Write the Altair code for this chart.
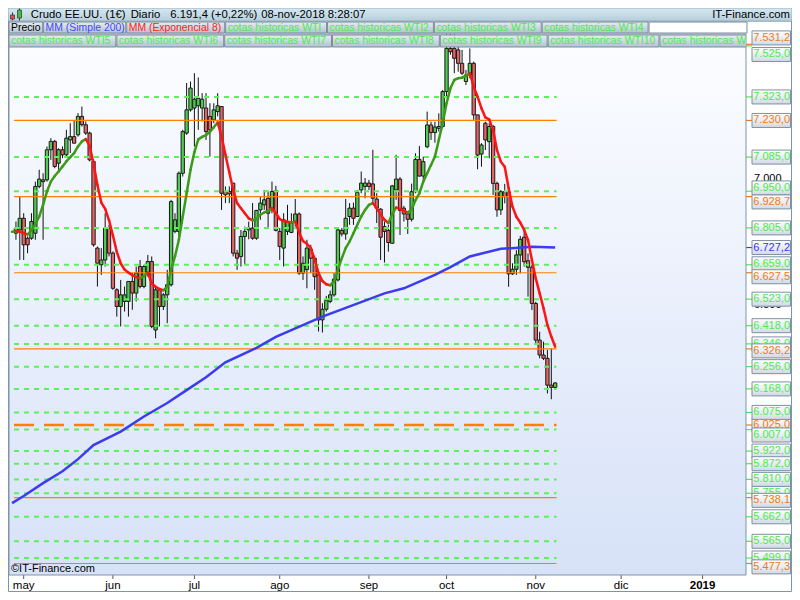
import altair as alt
import pandas as pd

FONT = "Liberation Sans"

# ---------------- chart values ----------------
opens = [6784, 6797, 6843, 6764, 6764, 6784, 6969, 6988, 6995, 7114,
         7147, 7061, 7114, 7094, 7153, 7166, 7173, 7246, 7213, 7180,
         7068, 6725, 6659, 6678, 6804, 6705, 6560, 6494, 6514, 6514,
         6593, 6547, 6652, 6573, 6619, 6672, 6401, 6560, 6494, 6540,
         6580, 6791, 6791, 7021, 7180, 7272, 7279, 7288, 7279, 7279,
         7246, 7232, 7265, 7285, 6949, 6949, 6982, 6705, 6692, 6771,
         6797, 6804, 6764, 6876, 6896, 6922, 6876, 6953, 6791, 6725,
         6791, 6787, 6826, 6860, 6626, 6640, 6721, 6685, 6619, 6441,
         6483, 6514, 6540, 6599, 6795, 6781, 6850, 6883, 6850, 6955,
         6969, 6982, 6979, 6919, 6879, 6810, 6795, 6744, 6955, 6998,
         6883, 6860, 6839, 6948, 7076, 7010, 7126, 7212, 7182, 7199,
         7206, 7344, 7515, 7515, 7509, 7456, 7384, 7410, 7456, 7252,
         7097, 7219, 7146, 7206, 6981, 6876, 6948, 6948, 6623, 6641,
         6698, 6768, 6675, 6649, 6506, 6361, 6302, 6289, 6183, 6174]
highs = [6830, 6929, 6863, 6771, 6863, 6988, 7035, 7021, 7127, 7160,
         7153, 7120, 7127, 7193, 7219, 7232, 7259, 7285, 7226, 7186,
         7074, 6731, 6725, 6863, 6817, 6712, 6566, 6599, 6573, 6593,
         6626, 6652, 6678, 6659, 6698, 6692, 6573, 6566, 6547, 6639,
         6916, 6863, 7028, 7193, 7378, 7384, 7417, 7400, 7338, 7338,
         7298, 7298, 7338, 7285, 6969, 6969, 6982, 6718, 6797, 6810,
         6830, 6903, 6876, 6929, 6955, 6949, 6988, 6971, 6804, 6863,
         6896, 6863, 6919, 6866, 6692, 6758, 6738, 6695, 6626, 6507,
         6536, 6557, 6626, 6804, 6804, 6919, 6903, 6905, 6955, 7028,
         7002, 6995, 7114, 6942, 6883, 6830, 6817, 6975, 7094, 7006,
         6892, 6869, 6980, 7100, 7129, 7087, 7265, 7225, 7225, 7258,
         7351, 7600, 7620, 7600, 7545, 7509, 7430, 7515, 7463, 7252,
         7140, 7225, 7219, 7212, 6988, 6955, 6979, 6955, 6665, 6717,
         6773, 6797, 6704, 6658, 6513, 6394, 6355, 6322, 6328, 6195]
lows = [6758, 6678, 6678, 6705, 6758, 6758, 6962, 6758, 6988, 7074,
        7041, 7035, 7081, 7087, 7101, 7140, 7166, 7206, 7173, 7068,
        6731, 6573, 6619, 6652, 6692, 6560, 6454, 6415, 6474, 6454,
        6481, 6514, 6566, 6566, 6612, 6408, 6368, 6415, 6480, 6428,
        6573, 6784, 6758, 7008, 7173, 7265, 7127, 7193, 7226, 7153,
        7087, 7219, 7246, 6876, 6903, 6903, 6692, 6639, 6652, 6659,
        6760, 6758, 6758, 6837, 6876, 6804, 6863, 6791, 6678, 6652,
        6777, 6784, 6810, 6619, 6599, 6566, 6626, 6560, 6395, 6391,
        6474, 6507, 6533, 6593, 6771, 6758, 6817, 6817, 6850, 6942,
        6922, 6955, 6903, 6824, 6678, 6668, 6711, 6742, 6916, 6777,
        6830, 6781, 6830, 6942, 7008, 6994, 7120, 7153, 7142, 7186,
        7199, 7324, 7490, 7417, 7423, 7410, 7370, 7397, 7232, 7037,
        7047, 7113, 7080, 6935, 6849, 6856, 6902, 6572, 6619, 6619,
        6625, 6652, 6533, 6480, 6342, 6289, 6282, 6150, 6127, 6170]
closes = [6804, 6843, 6738, 6738, 6830, 6969, 6998, 6995, 7114, 7147,
          7048, 7114, 7094, 7160, 7166, 7140, 7246, 7213, 7180, 7074,
          6738, 6665, 6678, 6804, 6705, 6566, 6494, 6540, 6540, 6593,
          6547, 6626, 6573, 6652, 6672, 6415, 6560, 6494, 6540, 6580,
          6909, 6837, 7021, 7186, 7272, 7358, 7314, 7318, 7314, 7186,
          7193, 7272, 7288, 6942, 6936, 6940, 6705, 6685, 6771, 6791,
          6804, 6764, 6874, 6903, 6916, 6863, 6949, 6795, 6731, 6837,
          6830, 6824, 6860, 6626, 6665, 6725, 6685, 6612, 6441, 6483,
          6518, 6540, 6602, 6797, 6781, 6843, 6883, 6843, 6945, 6982,
          6982, 6969, 6922, 6883, 6768, 6791, 6747, 6971, 6998, 6874,
          6860, 6839, 6948, 7076, 7010, 7067, 7212, 7182, 7204, 7206,
          7344, 7515, 7502, 7476, 7456, 7417, 7410, 7456, 7252, 7093,
          7133, 7153, 7206, 6981, 6876, 6948, 6929, 6623, 6641, 6698,
          6760, 6671, 6649, 6506, 6361, 6302, 6289, 6183, 6174, 6191.4]

# MM (Exponencial 8), one value per session starting one session before the first candle
ema8_start_day = -1
ema8 = [6790, 6793, 6790, 6784, 6779, 6795, 6820, 6850, 6896, 6949,
        6988, 7010, 7028, 7048, 7068, 7085, 7101, 7127, 7147, 7156,
        7130, 7060, 6975, 6905, 6880, 6835, 6775, 6710, 6665, 6640,
        6628, 6618, 6610, 6605, 6615, 6628, 6585, 6572, 6563, 6558,
        6572, 6640, 6692, 6758, 6850, 6942, 7035, 7105, 7155, 7165,
        7172, 7185, 7203, 7222, 7168, 7094, 7025, 6955, 6903, 6883,
        6863, 6843, 6835, 6840, 6857, 6866, 6872, 6883, 6863, 6840,
        6832, 6829, 6826, 6830, 6787, 6753, 6742, 6725, 6680, 6626,
        6595, 6582, 6578, 6593, 6639, 6685, 6725, 6751, 6784, 6817,
        6850, 6876, 6896, 6903, 6883, 6857, 6837, 6824, 6860, 6885,
        6880, 6872, 6866, 6878, 6915, 6942, 6988, 7021, 7054, 7087,
        7153, 7219, 7298, 7357, 7390, 7397, 7399, 7406, 7417, 7364,
        7324, 7278, 7242, 7234, 7192, 7113, 7067, 7047, 6962, 6889,
        6849, 6826, 6797, 6757, 6678, 6605, 6546, 6487, 6421, 6375,
        6335]

# MM (Simple 200), read at sample sessions
mm200_days = [-1, 2, 7, 12, 16, 20, 27, 33, 39, 44, 49, 54, 62, 67, 79, 95,
              100, 108, 112, 117, 125, 133, 139]
mm200_vals = [5716, 5744, 5795, 5842, 5890, 5946, 5999, 6059, 6112, 6163, 6214,
              6273, 6330, 6374, 6454, 6546, 6566, 6619, 6650, 6692, 6722, 6730,
              6727.2]

# "cotas historicas" levels
green_levels = [7525.0, 7323.0, 7085.0, 6950.0, 6805.0, 6659.0, 6523.0, 6418.0,
                6346.0, 6256.0, 6168.0, 6075.0, 6007.0, 5922.0, 5872.0, 5810.0,
                5755.0, 5662.0, 5565.0, 5499.0]
orange_levels = [7531.2, 7230.0, 6928.7, 6627.5, 6326.2, 5738.1, 5477.3]
orange_dashed_levels = [6025.0]

axis_values = [5500, 6000, 6500, 7000]
month_names = ["may", "jun", "jul", "ago", "sep", "oct", "nov", "dic", "2019"]
month_pos = [2, 25, 46, 68, 91, 111, 134, 156, 177]

title_parts = ["Crudo EE.UU. (1€)", "Diario", "6.191,4 (+0,22%)", "08-nov-2018 8:28:07"]

# ---------------- layout / style ----------------
# page content is 784x584 (8px page margin); plot box sits where the reference's does
W, H = 737, 541
UPP = 2164 / 547.0                      # price units per pixel, as in the reference
X_DOMAIN = [-0.5, 186.9]
Y_DOMAIN = [7572 - H * UPP, 7572]

GREEN_LINE = "#5cf05c"
GREEN_TXT = "#48ec48"
ORANGE = "#ff8000"
BLUE = "#3b3bf0"
UP_BODY = "#4fcb4f"
DOWN_BODY = "#e46464"
EMA_UP = "#3b9b16"
EMA_DOWN = "#ff1414"
FRAME = "#7f94a6"

xsc = alt.Scale(domain=X_DOMAIN, nice=False, zero=False)
ysc = alt.Scale(domain=Y_DOMAIN, nice=False, zero=False)

one = pd.DataFrame({"k": [0]})


def fx(rx):
    # reference x (inside the chart width) -> plot x
    return (rx - 1) * W / 745.0


def px(rx):
    # reference x in the right-hand column -> plot x (exact page position)
    return rx - 9


def es(v):
    s = f"{v:,.1f}"
    return s.replace(",", "X").replace(".", ",").replace("X", ".")


def grad(top, bottom):
    return {"gradient": "linear", "x1": 0, "y1": 0, "x2": 0, "y2": 1,
            "stops": [{"offset": 0, "color": top}, {"offset": 1, "color": bottom}]}


def R(x0, x1, y0, y1, **kw):
    return alt.Chart(one).mark_rect(**kw).encode(
        x=alt.value(x0), x2=alt.value(x1), y=alt.value(y0), y2=alt.value(y1))


def T(x, y, s, **kw):
    kw.setdefault("font", FONT)
    kw.setdefault("fontSize", 11)
    kw.setdefault("baseline", "middle")
    kw.setdefault("align", "left")
    return alt.Chart(one).mark_text(**kw).encode(
        x=alt.value(x), y=alt.value(y), text=alt.value(s))


def VR(x, y0, y1, color):
    return alt.Chart(one).mark_rule(color=color, strokeWidth=1).encode(
        x=alt.value(x), y=alt.value(y0), y2=alt.value(y1))


n = len(closes)
x_end = n - 1 + 0.35
cdf = pd.DataFrame({"d": list(range(n)), "o": opens, "h": highs, "l": lows, "c": closes})
cdf["fc"] = [UP_BODY if c >= o else DOWN_BODY for o, c in zip(opens, closes)]

ema_days = [ema8_start_day + i for i in range(len(ema8))]
seg_rows = []
for i in range(len(ema8) - 1):
    col = EMA_UP if ema8[i + 1] >= ema8[i] else EMA_DOWN
    seg_rows.append({"seg": i, "d": ema_days[i], "v": ema8[i], "col": col})
    seg_rows.append({"seg": i, "d": ema_days[i + 1], "v": ema8[i + 1], "col": col})
edf = pd.DataFrame(seg_rows)

mdf = pd.DataFrame({"d": mm200_days, "v": mm200_vals})


def level_df(vals):
    return pd.DataFrame({"v": vals, "x0": X_DOMAIN[0], "x1": x_end})


layers = []

# plot background
layers.append(R(0, W, 0, H, fill=grad("#fcfdff", "#d7e2f8")))

# black price scale labels (mostly hidden behind the level labels)
adf = pd.DataFrame({"v": axis_values,
                    "txt": [f"{v:,.0f}".replace(",", ".") for v in axis_values]})
layers.append(alt.Chart(adf).mark_text(align="left", baseline="middle", font=FONT,
                                        fontSize=11, color="#000000").encode(
    x=alt.value(px(754)), y=alt.Y("v:Q", scale=ysc, axis=None), text="txt:N"))

# month axis: ticks + labels
mdf_ax = pd.DataFrame({"d": month_pos, "name": month_names})
mdf_ax["bold"] = [nm.isdigit() for nm in month_names]
layers.append(alt.Chart(mdf_ax).mark_rule(color="#555555", strokeWidth=1).encode(
    x=alt.X("d:Q", scale=xsc, axis=None), y=alt.value(H), y2=alt.value(H + 4)))
layers.append(alt.Chart(mdf_ax[~mdf_ax["bold"]]).mark_text(
    align="center", baseline="middle", font=FONT, fontSize=11.5, color="#000000").encode(
    x=alt.X("d:Q", scale=xsc, axis=None), y=alt.value(H + 10.5), text="name:N"))
layers.append(alt.Chart(mdf_ax[mdf_ax["bold"]]).mark_text(
    align="center", baseline="middle", font=FONT, fontSize=11.5, fontWeight="bold",
    color="#000000").encode(
    x=alt.X("d:Q", scale=xsc, axis=None), y=alt.value(H + 10.5), text="name:N"))

# candles: wicks + bodies
layers.append(alt.Chart(cdf).mark_rule(color="#111111", strokeWidth=1, clip=True).encode(
    x=alt.X("d:Q", scale=xsc, axis=None),
    y=alt.Y("l:Q", scale=ysc, axis=None),
    y2="h:Q"))
layers.append(alt.Chart(cdf).mark_bar(size=3.3, stroke="#1a1a1a", strokeWidth=1, clip=True).encode(
    x=alt.X("d:Q", scale=xsc, axis=None),
    y=alt.Y("o:Q", scale=ysc, axis=None),
    y2="c:Q",
    fill=alt.Fill("fc:N", scale=None)))

# levels
layers.append(alt.Chart(level_df(green_levels)).mark_rule(
    color=GREEN_LINE, strokeWidth=2, strokeDash=[5, 5], clip=True).encode(
    y=alt.Y("v:Q", scale=ysc, axis=None),
    x=alt.X("x0:Q", scale=xsc, axis=None), x2="x1:Q"))
layers.append(alt.Chart(level_df(orange_levels)).mark_rule(
    color=ORANGE, strokeWidth=1.2, clip=True).encode(
    y=alt.Y("v:Q", scale=ysc, axis=None),
    x=alt.X("x0:Q", scale=xsc, axis=None), x2="x1:Q"))
layers.append(alt.Chart(level_df(orange_dashed_levels)).mark_rule(
    color=ORANGE, strokeWidth=2.5, strokeDash=[20, 10], clip=True).encode(
    y=alt.Y("v:Q", scale=ysc, axis=None),
    x=alt.X("x0:Q", scale=xsc, axis=None), x2="x1:Q"))

# moving averages
layers.append(alt.Chart(mdf).mark_line(color=BLUE, strokeWidth=2.5, clip=True).encode(
    x=alt.X("d:Q", scale=xsc, axis=None), y=alt.Y("v:Q", scale=ysc, axis=None)))
layers.append(alt.Chart(edf).mark_line(strokeWidth=2.5, clip=True, strokeCap="round").encode(
    x=alt.X("d:Q", scale=xsc, axis=None), y=alt.Y("v:Q", scale=ysc, axis=None),
    detail="seg:N", color=alt.Color("col:N", scale=None)))

# price labels on the right
label_nudge_px = {7531.2: -6.4, 7525.0: 8.6, 6950.0: -3.3, 6928.7: 5.3, 6659.0: -1.0,
                  6627.5: 4.0, 6326.2: 2.0, 6007.0: 5.4, 5738.1: 2.8, 5477.3: 3.4}
covered = {6346.0, 6025.0, 5755.0, 5499.0}
lab_rows = []
for v in green_levels:
    lab_rows.append((v, GREEN_TXT))
for v in orange_levels + orange_dashed_levels:
    lab_rows.append((v, "#f07a14"))
lab_rows.append((mm200_vals[-1], "#3434f4"))
ldf = pd.DataFrame(lab_rows, columns=["v", "col"])
ldf["txt"] = [es(v) for v in ldf["v"]]
ldf["ylab"] = [v - label_nudge_px.get(v, 0.0) * UPP for v in ldf["v"]]
ldf["yt"] = ldf["ylab"] + 7 * UPP
ldf["yb"] = ldf["ylab"] - 7 * UPP
ldf["grp"] = ["A" if v in covered else "B" for v in ldf["v"]]
ldf = ldf.sort_values("v", ascending=False)

LBX0 = px(752)
LBX1 = px(790.5)
layers.append(alt.Chart(ldf).mark_rule(strokeWidth=1.2).encode(
    x=alt.value(W), x2=alt.value(LBX0),
    y=alt.Y("v:Q", scale=ysc, axis=None), color=alt.Color("col:N", scale=None)))
for g in ["A", "B"]:
    sub = ldf[ldf["grp"] == g]
    layers.append(alt.Chart(sub).mark_rect(stroke="#7d91a3", strokeWidth=1,
                                            fill=grad("#ffffff", "#d2dae6")).encode(
        x=alt.value(LBX0), x2=alt.value(LBX1),
        y=alt.Y("yt:Q", scale=ysc, axis=None), y2="yb:Q"))
    layers.append(alt.Chart(sub).mark_text(align="left", baseline="middle", font=FONT,
                                            fontSize=11).encode(
        x=alt.value(LBX0 + 1.3), y=alt.Y("ylab:Q", scale=ysc, axis=None),
        text="txt:N", color=alt.Color("col:N", scale=None)))

# copyright
layers.append(T(2, H - 1.5, "©IT-Finance.com", baseline="bottom", color="#000000"))

# plot border and outer frame
layers.append(R(0, W, 0, H, fillOpacity=0, stroke=FRAME, strokeWidth=1))
layers.append(R(-0.5, 782.5, -13, H + 16.5, fillOpacity=0, stroke=FRAME, strokeWidth=1))

# ---- header: title bar ----
layers.append(R(-1, 783, -26, -13, fill=grad("#d6e8f0", "#b6cfdc"),
                stroke="#8ea6b5", strokeWidth=0.8))
# icon
layers.append(VR(3.5, -21.5, -13.8, "#333333"))
layers.append(R(1.5, 5.5, -19, -15, fill="#e05050", stroke="#333333", strokeWidth=0.7))
layers.append(VR(10.5, -25.5, -13.5, "#333333"))
layers.append(R(8.5, 12.5, -24, -16, fill="#3fc03f", stroke="#333333", strokeWidth=0.7))
for rx, s in zip([23, 124, 164, 256], title_parts):
    layers.append(T(fx(rx), -19.5, s, color="#000000", fontSize=11.3))
layers.append(T(px(790), -19.5, "IT-Finance.com", align="right", color="#000000",
                fontSize=11.3))

# ---- tabs ----
tab_fill = grad("#e6edf2", "#b2c3cf")
TAB_FS = 10.4
row1 = [("Precio", "#000000", 1, 35), ("MM (Simple 200)", "#4646ff", 36, 119),
        ("MM (Exponencial 8)", "#ff2020", 120, 219),
        ("cotas historicas WTI", GREEN_TXT, 220, 322),
        ("cotas historicas WTI2", GREEN_TXT, 323, 430),
        ("cotas historicas WTI3", GREEN_TXT, 431, 539),
        ("cotas historicas WTI4", GREEN_TXT, 540, 647)]
for s, col, a, b in row1:
    layers.append(R(fx(a), fx(b), -12, -1, fill=tab_fill, stroke="#7a8e9e", strokeWidth=1))
    layers.append(T(fx(a) + 2, -6.3, s, color=col, fontSize=TAB_FS))
layers.append(R(fx(648), fx(747), -12, -1, fill="#ffffff", stroke="#7a8e9e", strokeWidth=1))

row2 = [("cotas historicas WTI5", 1, 109), ("cotas historicas WTI6", 110, 218),
        ("cotas historicas WTI7", 219, 327), ("cotas historicas WTI8", 328, 436),
        ("cotas historicas WTI9", 437, 545), ("cotas historicas WTI10", 546, 658),
        ("cotas historicas WTI11", 659, 760)]
for s, a, b in row2:
    layers.append(R(fx(a), fx(b), 1, 13, fill=tab_fill, stroke="#7a8e9e",
                    strokeWidth=1, clip=True))
    layers.append(T(fx(a) + 2, 7, s, color=GREEN_TXT, fontSize=TAB_FS, clip=True))

chart = alt.layer(*layers).properties(
    width=W, height=H,
    padding={"left": 1, "top": 26, "right": 46, "bottom": 17},
    autosize=alt.AutoSizeParams(type="none"),
    background="#ffffff",
).configure_view(strokeWidth=0)

chart.save("out.html", embed_options={"renderer": "svg", "actions": False})
